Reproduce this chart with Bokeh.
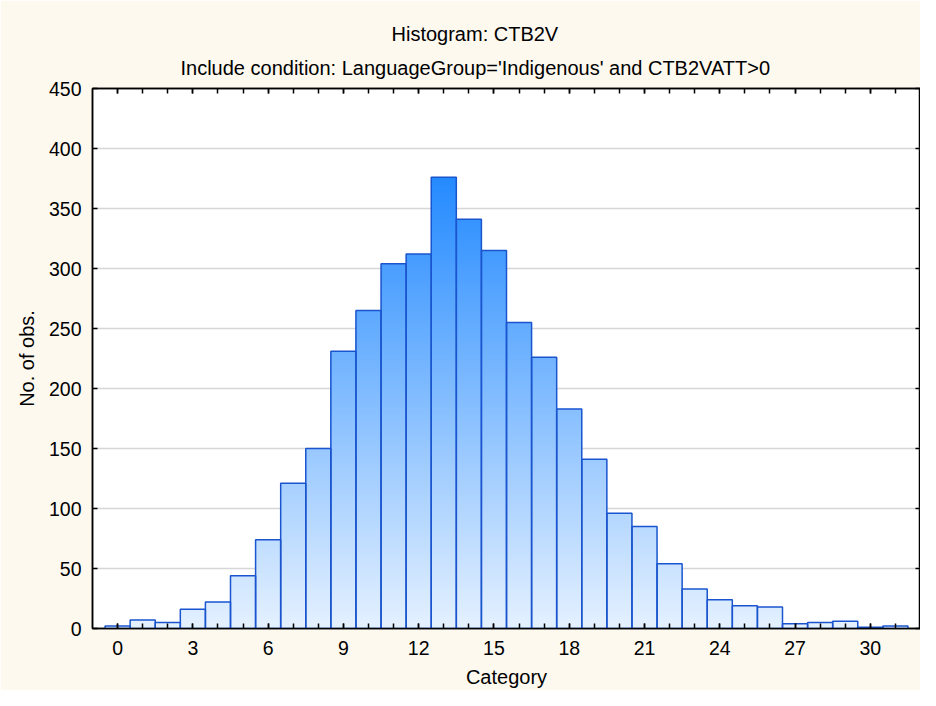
import numpy as np
from bokeh.plotting import figure
from bokeh.models import Range1d, LinearAxis, FixedTicker, Title, ColumnDataSource, CustomJSTickFormatter
from bokeh.embed import file_html
from bokeh.resources import INLINE

# ---- data ----
categories = list(range(32))
counts = [2, 7, 5, 16, 22, 44, 74, 121, 150, 231, 265, 304, 312, 376, 341, 315,
          255, 226, 183, 141, 96, 85, 54, 33, 24, 19, 18, 4, 5, 6, 1, 2]
x_tick_values = [0, 3, 6, 9, 12, 15, 18, 21, 24, 27, 30]
y_tick_values = [0, 50, 100, 150, 200, 250, 300, 350, 400, 450]
title_main = "Histogram: CTB2V"
title_sub = "Include condition: LanguageGroup='Indigenous' and CTB2VATT>0"
x_label = "Category"
y_label = "No. of obs."

FONT = "Liberation Sans"
FS = "19.5px"
FS_T = "20px"
BG = "#fdf9ef"

# ---- gradient stripes (colour depends on height) ----
light = np.array([229, 241, 255])
dark = np.array([36, 138, 255])
cmax = max(counts)
step = 2.0
sl, sr, st, sc = [], [], [], []
for x, c in zip(categories, counts):
    tops = list(np.arange(step, c, step)) + [c]
    for t in tops:
        mid = max(t - step / 2.0, 0)
        f = min(mid / cmax, 1.0)
        rgb = (light + (dark - light) * f).round().astype(int)
        sl.append(x - 0.5)
        sr.append(x + 0.5)
        st.append(float(t))
        sc.append("#%02x%02x%02x" % tuple(rgb))
order = np.argsort(-np.array(st), kind="stable")
stripes = ColumnDataSource(dict(
    left=[sl[i] for i in order], right=[sr[i] for i in order],
    top=[st[i] for i in order], bottom=[0.0] * len(order),
    color=[sc[i] for i in order]))

bars = ColumnDataSource(dict(
    left=[x - 0.5 for x in categories], right=[x + 0.5 for x in categories],
    top=counts, bottom=[0] * len(counts)))

p = figure(width=920, height=690, x_range=Range1d(-1, 32), y_range=Range1d(0, 450),
           output_backend="svg", toolbar_location=None, title=None,
           min_border_left=92, min_border_right=0, min_border_top=88, min_border_bottom=4,
           background_fill_color="white", border_fill_color=BG,
           outline_line_color="black", outline_line_width=1.5)

p.quad(left="left", right="right", top="top", bottom="bottom", source=stripes,
       fill_color="color", line_color=None)
p.quad(left="left", right="right", top="top", bottom="bottom", source=bars,
       fill_color=None, line_color="#1a55cf", line_width=1.5)

# axes
xa = p.xaxis[0]
xa.ticker = FixedTicker(ticks=x_tick_values, minor_ticks=categories)
ya = p.yaxis[0]
ya.ticker = FixedTicker(ticks=y_tick_values)
for ax in (xa, ya):
    ax.major_tick_in = 5
    ax.major_tick_out = 0
    ax.minor_tick_in = 5 if ax is xa else 0
    ax.minor_tick_out = 0
    ax.axis_line_width = 1.5
    ax.major_tick_line_width = 1.5
    ax.minor_tick_line_width = 1.5
    ax.major_label_text_font = FONT
    ax.major_label_text_font_size = FS
    ax.major_label_text_color = "black"
    ax.axis_label_text_font = FONT
    ax.axis_label_text_font_size = FS_T
    ax.axis_label_text_font_style = "normal"
    ax.axis_label_text_color = "black"
xa.axis_label = x_label
ya.axis_label = y_label
xa.major_label_standoff = 12
xa.axis_label_standoff = 8
ya.major_label_standoff = 11
ya.axis_label_standoff = 8

blank = CustomJSTickFormatter(code="return ''")
top_axis = LinearAxis(ticker=FixedTicker(ticks=x_tick_values, minor_ticks=categories),
                      formatter=blank, major_label_text_font_size="1px", major_label_standoff=0,
                      major_tick_in=5, major_tick_out=0, minor_tick_in=5, minor_tick_out=0,
                      axis_line_width=1.5, major_tick_line_width=1.5, minor_tick_line_width=1.5)
right_axis = LinearAxis(ticker=FixedTicker(ticks=y_tick_values),
                        formatter=blank, major_label_text_font_size="1px", major_label_standoff=0,
                        major_tick_in=5, major_tick_out=0, minor_tick_in=0, minor_tick_out=0,
                        axis_line_width=1.5, major_tick_line_width=1.5)
p.add_layout(top_axis, "above")
p.add_layout(right_axis, "right")

p.add_layout(Title(text=title_sub, align="left", offset=88, text_font=FONT, text_font_size=FS_T,
                   text_font_style="normal", text_color="black", standoff=20), "above")
p.add_layout(Title(text=title_main, align="left", offset=299, text_font=FONT, text_font_size=FS_T,
                   text_font_style="normal", text_color="black", standoff=0), "above")

p.xgrid.visible = False
p.ygrid.ticker = FixedTicker(ticks=y_tick_values)
p.ygrid.grid_line_color = "#d6d6d6"
p.ygrid.grid_line_width = 1.5

open("out.html", "w").write(file_html(p, INLINE))
